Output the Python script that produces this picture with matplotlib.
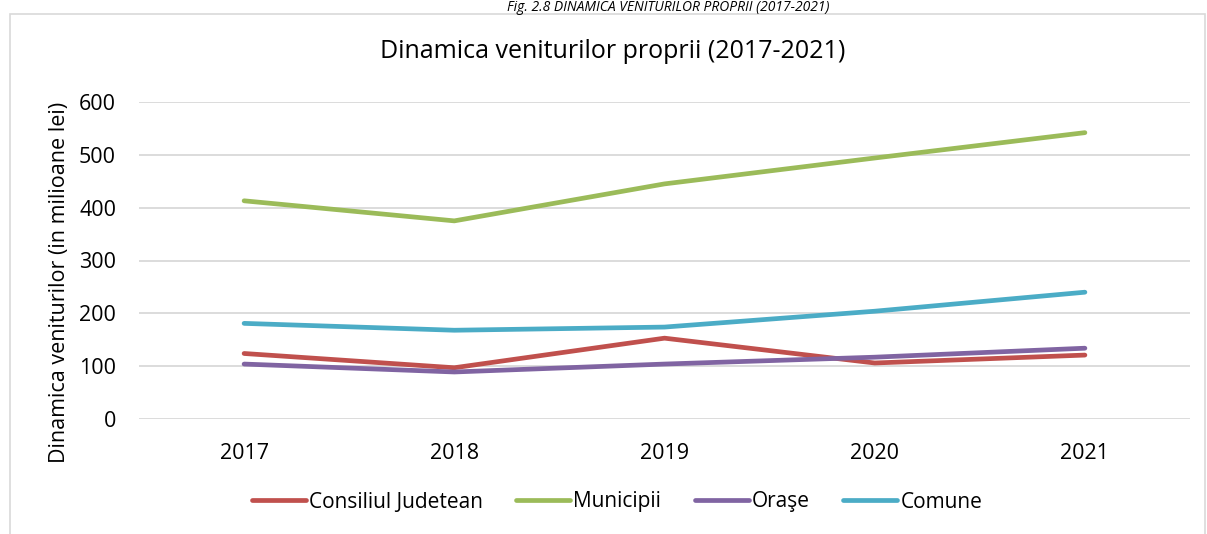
import matplotlib.pyplot as plt
from matplotlib.patches import Rectangle

# data
years = ['2017', '2018', '2019', '2020', '2021']
consiliul = [124, 97, 153, 106, 121]
municipii = [413, 375, 445, 494, 542]
orase = [104, 89, 104, 117, 134]
comune = [181, 168, 174, 204, 240]

series = [
    ('Consiliul Judetean', consiliul, '#C0504D'),
    ('Municipii', municipii, '#9BBB59'),
    ('Oraşe', orase, '#8064A2'),
    ('Comune', comune, '#4BACC6'),
]

plt.rcParams['font.family'] = ['Open Sans', 'DejaVu Sans']

fig = plt.figure(figsize=(12.07, 5.34), dpi=100)
ax = fig.add_axes([139 / 1207, 1 - 419 / 534, (1190 - 139) / 1207, (419 - 102) / 534])

x = list(range(len(years)))
for name, vals, col in series:
    ax.plot(x, vals, color=col, lw=3.4, solid_capstyle='round', label=name)

ax.set_xlim(-0.5, len(years) - 0.5)
ax.set_ylim(0, 600)
ax.set_yticks(range(0, 601, 100))
ax.set_xticks(x)
ax.set_xticklabels(years)
ax.grid(axis='y', color='#D9D9D9', lw=1.3)
ax.set_axisbelow(True)
for s in ax.spines.values():
    s.set_visible(False)
ax.tick_params(length=0, labelsize=15.5)
ax.tick_params(axis='y', pad=16.5)
ax.tick_params(axis='x', pad=17)
ax.set_ylabel('Dinamica veniturilor (in milioane lei)', fontsize=15.5)
ax.yaxis.set_label_coords(-0.0656, 0.432)

fig.text(613 / 1207, 1 - 52 / 534, 'Dinamica veniturilor proprii (2017-2021)',
         ha='center', va='center', fontsize=18)

# caption above the chart (cut off in the source)
fig.text(668 / 1207, 1.0, 'Fig. 2.8 DINAMICA VENITURILOR PROPRII (2017-2021)',
         ha='center', va='top', fontsize=10, style='italic')

# chart frame
fig.patches.append(Rectangle((10 / 1207, -0.1), 1195 / 1207, 1.1 - 14 / 534,
                             transform=fig.transFigure, fill=False,
                             edgecolor='#D9D9D9', lw=1.2))

fig.legend(loc='center', bbox_to_anchor=(617 / 1207, 1 - 502 / 534), ncol=4,
           frameon=False, fontsize=15, handlelength=2.6, handletextpad=0.15,
           columnspacing=1.6)

fig.savefig('out.png', dpi=100)
